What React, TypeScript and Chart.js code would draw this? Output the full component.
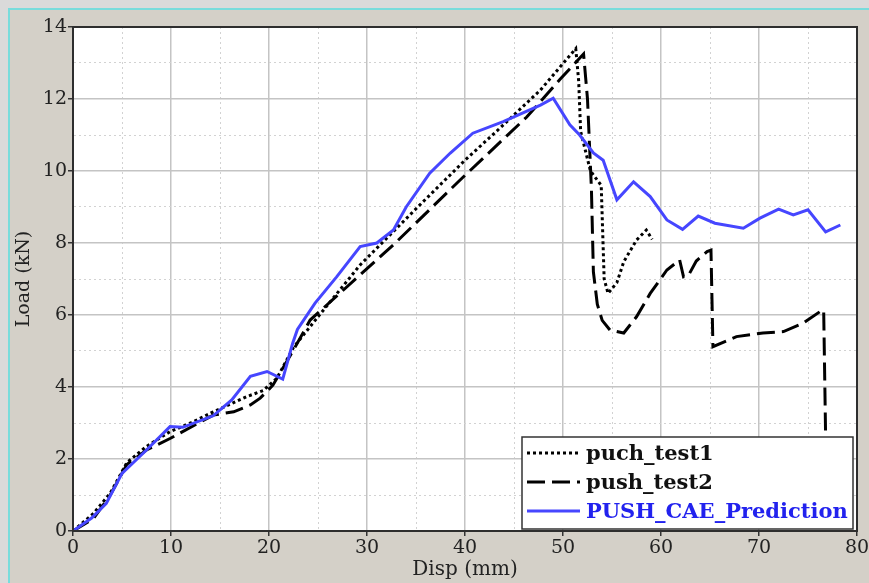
import React, { useEffect, useRef } from "react";
import { Chart, registerables } from "chart.js";

Chart.register(...registerables);

// ---- data ----
const test1Label = "puch_test1";
const test1X = [0, 2.1, 3.8, 5.5, 7.5, 9.9, 12, 14.3, 17.7, 19.4, 20.8, 22.5, 25, 29.3, 35, 40, 43.6, 47.7, 51.3, 51.6, 51.8, 52.8, 53.9, 54.2, 54.6, 55.5, 56.2, 57.5, 58.5, 59.1];
const test1Y = [0, 0.49, 1.05, 1.9, 2.35, 2.76, 3.0, 3.31, 3.73, 3.9, 4.24, 5.1, 5.95, 7.39, 8.95, 10.3, 11.2, 12.25, 13.4, 12.5, 11.1, 10.0, 9.6, 7.0, 6.6, 6.9, 7.48, 8.08, 8.36, 8.1];

const test2Label = "push_test2";
const test2X = [0, 2.1, 3.8, 5.5, 7.5, 9.9, 14.3, 16.4, 18.1, 19.1, 20.4, 22.5, 24.2, 32.7, 39.5, 46.3, 49.7, 52.1, 52.5, 52.9, 53.1, 53.5, 54.0, 54.8, 56.2, 57.5, 58.9, 60.6, 61.9, 62.3, 62.8, 63.6, 64.7, 65.1, 65.3, 67.7, 70.4, 72.5, 74.5, 76.2, 76.6, 76.8];
const test2Y = [0, 0.35, 1.0, 1.85, 2.25, 2.57, 3.22, 3.31, 3.5, 3.69, 4.05, 5.03, 5.86, 7.95, 9.75, 11.5, 12.55, 13.25, 12.0, 9.5, 7.2, 6.3, 5.85, 5.58, 5.5, 5.95, 6.6, 7.25, 7.53, 7.06, 7.1, 7.5, 7.76, 7.8, 5.12, 5.4, 5.5, 5.54, 5.77, 6.09, 6.14, 2.6];

const predLabel = "PUSH_CAE_Prediction";
const predX = [0, 1.9, 3.4, 5.0, 7.5, 9.9, 11.2, 14.3, 16.2, 18.1, 19.8, 21.4, 22.4, 22.9, 24.7, 26.9, 29.3, 31.0, 32.7, 34.0, 36.4, 38.5, 40.8, 43.9, 47.7, 49.0, 50.7, 51.7, 53.1, 54.1, 55.5, 57.2, 58.9, 60.6, 62.2, 63.8, 65.5, 68.4, 70.1, 72.0, 73.5, 75.0, 76.8, 78.3];
const predY = [0, 0.36, 0.77, 1.6, 2.25, 2.9, 2.88, 3.2, 3.64, 4.3, 4.43, 4.22, 5.2, 5.6, 6.33, 7.06, 7.9, 8.0, 8.36, 9.0, 9.94, 10.5, 11.05, 11.37, 11.83, 12.02, 11.28, 11.0, 10.5, 10.3, 9.2, 9.7, 9.29, 8.64, 8.38, 8.75, 8.55, 8.41, 8.69, 8.94, 8.78, 8.92, 8.31, 8.5];

const xMin = 0, xMax = 80, xStep = 5, xLabelEvery = 10;
const yMin = 0, yMax = 14, yStep = 1, yLabelEvery = 2;
const xTitle = "Disp (mm)";
const yTitle = "Load (kN)";

const FONT = '"DejaVu Serif", serif';
const legendTextColors = ["#111111", "#111111", "#2222ee"];

const toPoints = (xs: number[], ys: number[]) => xs.map((x, i) => ({ x, y: ys[i] }));

const plotFrame = {
  id: "plotFrame",
  beforeDraw(chart: any) {
    const { ctx, chartArea: a } = chart;
    ctx.save();
    ctx.fillStyle = "#ffffff";
    ctx.fillRect(a.left, a.top, a.right - a.left, a.bottom - a.top);
    ctx.restore();
  },
  afterDraw(chart: any) {
    const { ctx, chartArea: a } = chart;
    ctx.save();
    ctx.strokeStyle = "#2e2e2e";
    ctx.lineWidth = 2;
    ctx.strokeRect(a.left, a.top, a.right - a.left, a.bottom - a.top);
    ctx.restore();
  },
};

const legendBox = {
  id: "legendBox",
  afterDatasetsDraw(chart: any) {
    const { ctx, chartArea: a } = chart;
    const w = 331, h = 92;
    const x0 = a.right - 4 - w;
    const y0 = a.bottom - 2 - h;
    ctx.save();
    ctx.fillStyle = "#ffffff";
    ctx.fillRect(x0, y0, w, h);
    ctx.strokeStyle = "#333333";
    ctx.lineWidth = 1.5;
    ctx.strokeRect(x0, y0, w, h);
    ctx.font = `bold 21px ${FONT}`;
    ctx.textBaseline = "middle";
    ctx.textAlign = "left";
    chart.data.datasets.forEach((ds: any, i: number) => {
      const cy = y0 + 16 + i * 29;
      ctx.strokeStyle = ds.borderColor;
      ctx.lineWidth = ds.borderWidth;
      ctx.setLineDash(ds.borderDash || []);
      ctx.beginPath();
      ctx.moveTo(x0 + 5, cy);
      ctx.lineTo(x0 + 58, cy);
      ctx.stroke();
      ctx.setLineDash([]);
      ctx.fillStyle = legendTextColors[i];
      ctx.fillText(ds.label, x0 + 64, cy + 2);
    });
    ctx.restore();
  },
};

export default function App() {
  const ref = useRef<HTMLCanvasElement | null>(null);

  useEffect(() => {
    if (!ref.current) return;
    const isMajor = (v: number, every: number) => Math.abs(v % every) < 1e-9;
    const chart = new Chart(ref.current, {
      type: "line",
      data: {
        datasets: [
          {
            label: test1Label,
            data: toPoints(test1X, test1Y),
            borderColor: "#000000",
            borderWidth: 3,
            borderDash: [3, 3],
            pointRadius: 0,
            tension: 0,
            order: 1,
          },
          {
            label: test2Label,
            data: toPoints(test2X, test2Y),
            borderColor: "#000000",
            borderWidth: 3,
            borderDash: [18, 7],
            pointRadius: 0,
            tension: 0,
            order: 2,
          },
          {
            label: predLabel,
            data: toPoints(predX, predY),
            borderColor: "#4646ff",
            borderWidth: 3,
            pointRadius: 0,
            tension: 0,
            order: 0,
          },
        ],
      },
      options: {
        animation: false,
        responsive: false,
        devicePixelRatio: 1,
        layout: { padding: { top: 17, right: 12, left: 0, bottom: 0 } },
        plugins: {
          legend: { display: false },
          tooltip: { enabled: false },
        },
        scales: {
          x: {
            type: "linear",
            min: xMin,
            max: xMax,
            afterFit: (s: any) => {
              s.height = 52;
              s.paddingLeft = 0;
              s.paddingRight = 0;
            },
            ticks: {
              stepSize: xStep,
              autoSkip: false,
              maxRotation: 0,
              padding: 1,
              color: "#222222",
              font: { family: FONT, size: 19 },
              callback: (v: any) => (isMajor(Number(v), xLabelEvery) ? String(v) : ""),
            },
            grid: {
              color: (c: any) => (c.tick && isMajor(c.tick.value, xLabelEvery) ? "#c4c4c4" : "#d2d2d2"),
              lineWidth: (c: any) => (c.tick && isMajor(c.tick.value, xLabelEvery) ? 1.5 : 1),
              tickLength: 5,
              tickColor: (c: any) => (c.tick && isMajor(c.tick.value, xLabelEvery) ? "#333333" : "rgba(0,0,0,0)"),
            },
            border: {
              color: "#2e2e2e",
              width: 2,
              dash: (c: any) => (c.tick && !isMajor(c.tick.value, xLabelEvery) ? [2, 3] : []),
            },
            title: {
              display: true,
              text: xTitle,
              color: "#222222",
              font: { family: FONT, size: 20 },
              padding: { top: 0, bottom: 1 },
            },
          },
          y: {
            type: "linear",
            min: yMin,
            max: yMax,
            afterFit: (s: any) => {
              s.width = 63;
              s.paddingTop = 0;
              s.paddingBottom = 0;
            },
            ticks: {
              stepSize: yStep,
              autoSkip: false,
              padding: 1,
              color: "#222222",
              font: { family: FONT, size: 19 },
              callback: (v: any) => (isMajor(Number(v), yLabelEvery) ? String(v) : ""),
            },
            grid: {
              color: (c: any) => (c.tick && isMajor(c.tick.value, yLabelEvery) ? "#c4c4c4" : "#d2d2d2"),
              lineWidth: (c: any) => (c.tick && isMajor(c.tick.value, yLabelEvery) ? 1.5 : 1),
              tickLength: 5,
              tickColor: (c: any) => (c.tick && isMajor(c.tick.value, yLabelEvery) ? "#333333" : "rgba(0,0,0,0)"),
            },
            border: {
              color: "#2e2e2e",
              width: 2,
              dash: (c: any) => (c.tick && !isMajor(c.tick.value, yLabelEvery) ? [2, 3] : []),
            },
            title: {
              display: true,
              text: yTitle,
              color: "#222222",
              font: { family: FONT, size: 19 },
              padding: { top: 3, bottom: 0 },
            },
          },
        },
      },
      plugins: [plotFrame, legendBox],
    } as any);
    return () => chart.destroy();
  }, []);

  return (
    <div style={{ position: "fixed", left: 0, top: 0, right: 0, bottom: 0, background: "#dadada", overflow: "hidden" }}>
      <div
        style={{
          position: "absolute",
          left: 8,
          top: 8,
          right: 0,
          bottom: 0,
          background: "#d4d0c8",
          borderLeft: "2px solid #78dcdc",
          borderTop: "2px solid #78dcdc",
        }}
      >
        <canvas ref={ref} width={859} height={573} style={{ display: "block", width: 859, height: 573 }} />
      </div>
    </div>
  );
}
